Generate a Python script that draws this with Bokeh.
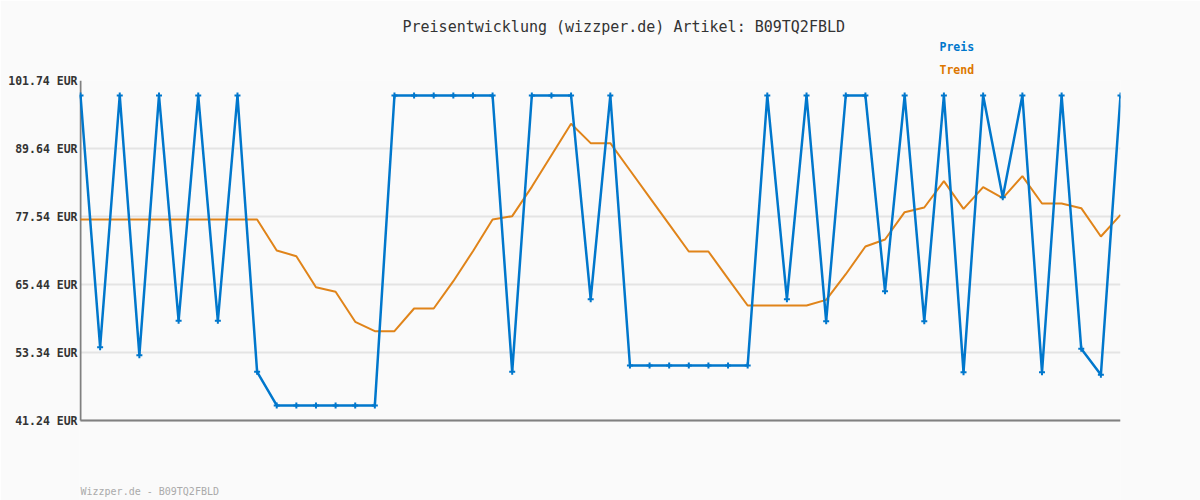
from bokeh.plotting import figure
from bokeh.models import Range1d, Title, Label, FixedTicker, PrintfTickFormatter
from bokeh.embed import file_html
from bokeh.resources import INLINE

# ---- data ----
preis = [99.07, 54.29, 99.07, 52.86, 99.07, 58.97, 99.07, 58.97, 99.07, 49.90,
         43.91, 43.91, 43.91, 43.91, 43.91, 43.91,
         99.07, 99.07, 99.07, 99.07, 99.07, 99.07,
         49.90, 99.07, 99.07, 99.07, 62.82, 99.07,
         51.03, 51.03, 51.03, 51.03, 51.03, 51.03, 51.03,
         99.07, 62.82, 99.07, 58.91, 99.07, 99.07, 64.25, 99.07, 58.91, 99.07,
         49.84, 99.07, 80.98, 99.07, 49.84, 99.07, 53.99, 49.36, 99.07]
trend = [77.01, 77.01, 77.01, 77.01, 77.01, 77.01, 77.01, 77.01, 77.01, 77.01,
         71.49, 70.48, 64.96, 64.14, 58.80, 57.14, 57.14, 61.17, 61.17, 66.03,
         71.37, 77.01, 77.60, 82.82, 88.45, 94.03, 90.59, 90.59, 85.77, 80.95,
         76.13, 71.31, 71.31, 66.50, 61.70, 61.70, 61.70, 61.70, 62.71, 67.27,
         72.20, 73.45, 78.31, 79.14, 83.83, 78.90, 82.76, 80.80, 84.72, 79.85,
         79.85, 79.02, 73.98, 77.84]
y_ticks = [41.24, 53.34, 65.44, 77.54, 89.64, 101.74]
title_text = "Preisentwicklung (wizzper.de) Artikel: B09TQ2FBLD"
footer_text = "Wizzper.de - B09TQ2FBLD"
series_names = ["Preis", "Trend"]

BLUE = "#0077cc"
ORANGE = "#dd7700"
AXIS = "#808080"
BG = "#fafafa"
MONO = "DejaVu Sans Mono"

x = list(range(len(preis)))
n = len(preis) - 1

# geometry of the chart area (pixels)
W, H = 1200, 500
PLOT_L, PLOT_R, PLOT_T, PLOT_B = 80, 1120, 80, 420
px_per_x = (PLOT_R - PLOT_L) / n
px_per_y = (PLOT_B - PLOT_T) / (y_ticks[-1] - y_ticks[0])
# frame extends to the canvas bottom so the footer can live inside it
y_lo = y_ticks[0] - (H - PLOT_B) / px_per_y
x_lo = -1 / px_per_x

p = figure(width=W, height=H, output_backend="svg", toolbar_location=None,
           x_range=Range1d(x_lo, n),
           y_range=Range1d(y_lo, y_ticks[-1]),
           min_border_left=PLOT_L - 1, min_border_right=W - PLOT_R,
           min_border_top=PLOT_T, min_border_bottom=0)
p.background_fill_color = BG
p.border_fill_color = BG
p.outline_line_color = None

# axes
p.xaxis.visible = False
p.yaxis.ticker = FixedTicker(ticks=y_ticks)
p.yaxis.formatter = PrintfTickFormatter(format="%.2f EUR")
p.yaxis.major_label_text_font = MONO
p.yaxis.major_label_text_font_size = "11.5px"
p.yaxis.major_label_text_font_style = "bold"
p.yaxis.major_label_text_color = "#333333"
p.yaxis.major_label_standoff = 2
p.yaxis.major_tick_out = 0
p.yaxis.major_tick_in = 0
p.yaxis.minor_tick_out = 0
p.yaxis.minor_tick_in = 0
p.yaxis.axis_line_color = None

p.xgrid.grid_line_color = None
p.ygrid.ticker = FixedTicker(ticks=y_ticks)
p.ygrid.grid_line_color = "#e4e4e4"
p.ygrid.grid_line_width = 2

# axis lines (drawn only over the value span)
p.segment(x0=[0, 0], y0=[y_ticks[0], y_ticks[0]], x1=[0, n], y1=[y_ticks[-1], y_ticks[0]],
          line_color=AXIS, line_width=2)

# series
p.line(x, trend, line_color=ORANGE, line_width=2, line_alpha=0.9)
p.line(x, preis, line_color=BLUE, line_width=2.5)
p.scatter(x, preis, marker="cross", size=6, line_color=BLUE, line_width=2)

# texts above the frame (titles stack outward from the frame)
p.add_layout(Title(text=series_names[1], align="left", offset=860, standoff=8,
                   text_font=MONO, text_font_size="11.5px", text_font_style="bold",
                   text_color=ORANGE), "above")
p.add_layout(Title(text=series_names[0], align="left", offset=860, standoff=5,
                   text_font=MONO, text_font_size="11.5px", text_font_style="bold",
                   text_color=BLUE), "above")
p.add_layout(Title(text=title_text, align="left", offset=323, standoff=0,
                   text_font=MONO, text_font_size="15px", text_font_style="normal",
                   text_color="#333333"), "above")

# footer
p.add_layout(Label(x=0, y=y_ticks[0] - (491 - PLOT_B) / px_per_y, text=footer_text,
                   text_font=MONO, text_font_size="10px", text_color="#aaaaaa",
                   text_align="left", text_baseline="alphabetic"))

open("out.html", "w").write(file_html(p, INLINE))
